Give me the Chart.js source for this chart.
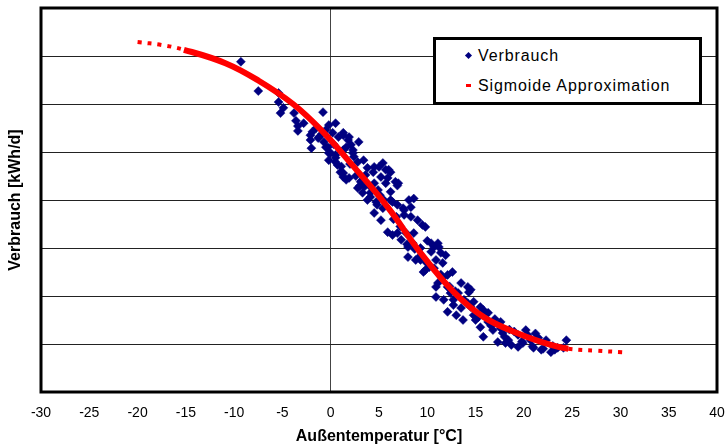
<!DOCTYPE html>
<html>
<head>
<meta charset="utf-8">
<script src="https://cdn.jsdelivr.net/npm/chart.js@4.4.0/dist/chart.umd.min.js"></script>
<style>
body { margin: 0; background: #fff; }
#wrap { position: relative; width: 725px; height: 448px; }
#legend {
    position: absolute; left: 433px; top: 37px; width: 269px; height: 68px;
    box-sizing: border-box; border: 3px solid #000; background: #fff;
    font-family: 'Liberation Sans', Arial, sans-serif; font-size: 16px;
    letter-spacing: 0.9px; color: #000;
}
#legend .txt { position: absolute; left: 42px; line-height: 20px; white-space: nowrap; }
#legend .mk { position: absolute; }
</style>
</head>
<body>
<div id="wrap">
    <canvas id="chart"></canvas>
    <div id="legend"></div>
</div>
<script>
// Messwerte: Außentemperatur [°C] und Verbrauch (relative Einheiten, Achse ohne Beschriftung)
const verbrauchTemp = [
    -9.3, -7.5, -5.4, -5.4, -4.9, -5.2, -3.8, -3.6, -3.4, -3.4,
    -0.8, -1.9, -2.1, -2.0, -1.2, -0.5, -0.2, 0.5, 0.2, 0.8,
    1.9, 2.1, -0.5, -0.2, 0.5, 1.3, 2.3, -2.8, -1.3, -0.7,
    -0.3, 0.0, -0.2, 0.5, 0.7, 1.3, 1.8, 1.6, 2.9, 2.3,
    1.0, 1.3, 1.9, 2.8, 3.4, 3.8, 4.4, 5.0, 6.0, 5.2,
    4.5, 3.1, 2.8, 3.3, 4.1, 4.9, 5.7, 6.7, 6.2, 3.8,
    4.7, 5.5, 6.4, 6.9, 1.3, 0.5, 1.3, 1.6, 2.4, 3.6,
    4.5, 5.4, 5.7, 6.2, 5.9, 7.0, 3.0, 4.1, 4.5, 5.4,
    5.2, 6.2, 7.5, 8.1, 7.6, 8.3, 9.0, 9.8, 5.9, 6.4,
    7.3, 7.8, 8.6, 8.5, 9.3, 8.0, 9.3, 9.8, 10.4, 11.2,
    10.9, 10.7, 11.6, 11.9, 12.6, 11.1, 11.6, 12.1, 10.9, 11.7,
    12.4, 13.5, 14.3, 12.7, 13.5, 14.2, 14.8, 12.1, 15.8, 6.9,
    8.6, 8.3, 10.4, 11.1, 7.6, 9.5, 6.9, 8.0, 8.8, 9.6,
    10.7, 11.4, 12.1, 14.5, 10.9, 15.5, 12.7, 13.0, 13.7, 14.5,
    14.8, 15.5, 15.8, 16.3, 16.9, 16.8, 17.6, 17.8, 17.3, 18.1,
    18.7, 19.4, 20.2, 19.9, 20.7, 21.5, 22.3, 21.0, 21.8, 22.8,
    23.5, 24.4, 24.1, 20.4, 13.2, 13.8, 14.2, 15.3, 16.3, 17.6,
    18.4, 19.4, -2.1, 16.0, 17.0, 18.5, 19.0, 21.2, 23.0, 10.0,
    -1.5, -0.9, 0.3, 1.1, 2.6, 3.2, 4.0, 4.8, 6.5, 7.2,
    7.9, 8.7, 9.1, 10.2, 11.4, 12.9, 13.9, 15.0, 16.6, 18.0,
    19.8, 20.9, 22.0, 23.2, 2.0, 3.5, 5.1, 6.8, 9.9, 12.3
];
const verbrauchWert = [
    68.8, 62.7, 62.3, 60.4, 59.2, 58.1, 58.1, 56.5, 55.4, 54.4,
    58.3, 54.2, 52.5, 50.8, 53.1, 54.6, 55.6, 56.0, 54.0, 53.1,
    53.1, 51.5, 51.0, 49.8, 49.4, 50.4, 50.4, 56.0, 52.9, 52.1,
    51.0, 49.8, 48.3, 48.8, 47.3, 54.0, 52.5, 51.0, 52.1, 49.8,
    45.8, 44.8, 44.6, 47.9, 48.3, 46.7, 45.8, 46.9, 46.3, 44.8,
    43.5, 43.8, 42.5, 41.5, 41.5, 42.1, 43.5, 43.8, 41.7, 40.0,
    39.6, 40.0, 39.6, 39.0, 53.5, 47.9, 45.6, 44.2, 49.0, 45.2,
    46.9, 47.7, 46.3, 45.8, 44.6, 43.5, 42.9, 40.6, 37.3, 38.3,
    35.8, 40.0, 38.3, 40.0, 36.9, 36.5, 35.8, 34.4, 33.3, 32.7,
    31.7, 33.1, 33.1, 31.0, 30.0, 28.1, 27.5, 25.4, 29.2, 30.2,
    27.5, 25.8, 26.9, 28.5, 25.0, 22.7, 23.8, 21.9, 19.8, 19.2,
    20.6, 22.7, 20.8, 18.1, 17.5, 18.5, 18.8, 16.7, 17.1, 43.0,
    40.3, 38.5, 31.0, 31.0, 37.9, 34.8, 33.1, 30.2, 27.5, 25.0,
    30.2, 29.0, 24.4, 21.3, 21.9, 17.7, 19.2, 16.0, 15.0, 17.7,
    16.0, 13.5, 11.5, 16.5, 14.4, 12.9, 14.6, 12.3, 10.4, 10.2,
    9.8, 11.9, 12.9, 10.2, 10.8, 11.3, 10.8, 9.2, 8.8, 8.3,
    9.2, 10.8, 9.2, 11.9, 20.6, 19.2, 21.9, 15.6, 14.6, 13.3,
    10.8, 9.4, 53.5, 16.0, 15.2, 13.0, 12.6, 12.2, 9.6, 31.5,
    55.0, 53.8, 51.6, 47.0, 45.0, 44.0, 43.0, 39.0, 36.0, 34.5,
    30.8, 29.8, 28.0, 26.0, 24.5, 21.0, 18.8, 15.0, 13.8, 11.5,
    10.5, 9.5, 9.0, 8.8, 47.5, 42.8, 41.0, 36.5, 27.0, 22.0
];

// Sigmoide Approximation
const sigmoidTemp = [-20, -17.5, -15.2, -10.9, -7.5, -3.9, -1.0, 2.4, 5.9, 9.3, 12.75, 15.85, 19.4, 22.8, 24.6, 27.5, 30.2];
const sigmoidWert = [72.9, 72.3, 71.3, 68.5, 64.9, 60.0, 54.6, 46.9, 38.5, 29.0, 20.8, 15.6, 12.2, 9.8, 9.0, 8.6, 8.3];
const solidFrom = -15.2;
const solidTo = 24.6;

const xMin = -30, xMax = 40, xStep = 5;
const yMin = 0, yMax = 80, yStep = 10;

const labelVerbrauch = 'Verbrauch';
const labelSigmoid = 'Sigmoide Approximation';

const navy = '#000080';
const red = '#ff0000';

// Rahmen um den Plotbereich
const framePlugin = {
    id: 'frame',
    afterDraw(chart) {
        const a = chart.chartArea;
        const ctx = chart.ctx;
        ctx.save();
        ctx.strokeStyle = '#000';
        ctx.lineWidth = 3;
        ctx.strokeRect(a.left, a.top, a.right - a.left, a.bottom - a.top);
        ctx.restore();
    }
};

const myChart = new Chart(document.getElementById('chart'), {
    type: 'scatter',
    data: {
        datasets: [{
            label: labelVerbrauch,
            data: verbrauchTemp.map((t, i) => ({ x: t, y: verbrauchWert[i] })),
            pointStyle: 'rectRot',
            pointRadius: 4.5,
            pointBorderWidth: 0.5,
            backgroundColor: navy,
            borderColor: navy,
            order: 2
        }, {
            label: labelSigmoid,
            data: sigmoidTemp.map((t, i) => ({ x: t, y: sigmoidWert[i] })),
            showLine: true,
            pointRadius: 0,
            borderColor: red,
            backgroundColor: red,
            borderWidth: 6,
            borderCapStyle: 'butt',
            tension: 0.4,
            segment: {
                borderDash: ctx => (ctx.p0.parsed.x < solidFrom || ctx.p1.parsed.x > solidTo) ? [4, 6] : undefined,
                borderWidth: ctx => (ctx.p0.parsed.x < solidFrom || ctx.p1.parsed.x > solidTo) ? 4 : 6
            },
            order: 1
        }]
    },
    options: {
        responsive: true,
        maintainAspectRatio: false,
        animation: false,
        layout: { padding: { top: 8, right: 8, left: 0, bottom: 0 } },
        plugins: {
            legend: { display: false },
            tooltip: { enabled: false }
        },
        scales: {
            x: {
                type: 'linear',
                min: xMin,
                max: xMax,
                ticks: {
                    stepSize: xStep,
                    color: '#000',
                    padding: 13,
                    maxRotation: 0,
                    font: { family: "'Liberation Sans', Arial, sans-serif", size: 14 }
                },
                grid: {
                    drawTicks: false,
                    color: ctx => (ctx.tick && ctx.tick.value === 0) ? '#444' : 'rgba(0,0,0,0)',
                    lineWidth: 1
                },
                border: { display: false },
                title: {
                    display: true,
                    text: 'Außentemperatur [°C]',
                    color: '#000',
                    padding: { top: 0, bottom: 2 },
                    font: { family: "'Liberation Sans', Arial, sans-serif", size: 16, weight: 'bold' }
                },
                afterFit: scale => {
                    scale.height = 56;
                    scale.paddingLeft = 0;
                    scale.paddingRight = 0;
                }
            },
            y: {
                min: yMin,
                max: yMax,
                ticks: { stepSize: yStep, display: false },
                grid: { drawTicks: false, color: '#222', lineWidth: 1 },
                border: { display: false },
                title: {
                    display: true,
                    text: 'Verbrauch [kWh/d]',
                    color: '#000',
                    padding: { top: 6, bottom: 0 },
                    font: { family: "'Liberation Sans', Arial, sans-serif", size: 16, weight: 'bold' }
                },
                afterFit: scale => {
                    scale.width = 41;
                    scale.paddingTop = 0;
                    scale.paddingBottom = 0;
                }
            }
        }
    },
    plugins: [framePlugin]
});

// HTML-Legende aus den Datensätzen
const legendEl = document.getElementById('legend');
const legendItems = [
    { text: labelVerbrauch, top: 6, mk: 'left:30px;top:13px;width:5px;height:5px;transform:rotate(45deg);background:' + navy },
    { text: labelSigmoid, top: 36, mk: 'left:30px;top:44px;width:5px;height:3px;background:' + red }
];
legendItems.forEach(it => {
    const mk = document.createElement('span');
    mk.className = 'mk';
    mk.style.cssText = mk.style.cssText + it.mk;
    legendEl.appendChild(mk);
    const t = document.createElement('span');
    t.className = 'txt';
    t.style.top = it.top + 'px';
    t.textContent = it.text;
    legendEl.appendChild(t);
});
</script>
</body>
</html>
